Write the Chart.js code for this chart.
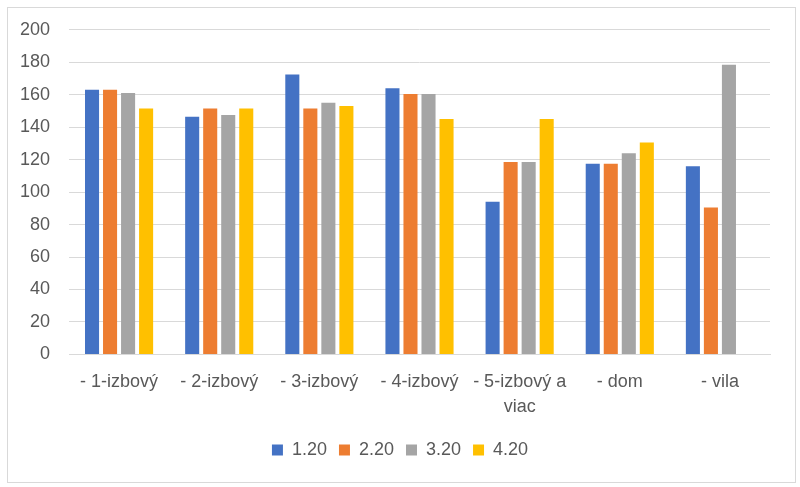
<!DOCTYPE html>
<html>
<head>
<meta charset="utf-8">
<script src="https://cdn.jsdelivr.net/npm/chart.js@4"></script>
<style>
  html, body { margin: 0; padding: 0; background: #ffffff; }
  #wrap { position: relative; width: 800px; height: 487px; }
  #frame { position: absolute; left: 7px; top: 7px; width: 787px; height: 474px; border: 1px solid #d9d9d9; pointer-events: none; }
  canvas { position: absolute; left: 0; top: 0; }
</style>
</head>
<body>
<div id="wrap">
  <canvas id="chart" width="800" height="487"></canvas>
  <div id="frame"></div>
</div>
<script>
// kategórie bytov
const categories = [
  '- 1-izbový', '- 2-izbový', '- 3-izbový', '- 4-izbový',
  ['- 5-izbový a', 'viac'], '- dom', '- vila'
];

// hodnoty podľa obdobia
const series120 = [163, 146.5, 172.5, 164, 94, 117.5, 116];
const series220 = [163, 151.5, 151.5, 160.5, 118.5, 117.5, 90.5];
const series320 = [161, 147.5, 155, 160.5, 118.5, 124, 178.5];
const series420 = [151.5, 151.5, 153, 145, 145, 130.5, null];

const seriesNames = ['1.20', '2.20', '3.20', '4.20'];
const seriesColors = ['#4472C4', '#ED7D31', '#A5A5A5', '#FFC000'];

const yTicks = [0, 20, 40, 60, 80, 100, 120, 140, 160, 180, 200];

const textColor = '#595959';
const fontFamily = "'Liberation Sans', sans-serif";

const ctx = document.getElementById('chart').getContext('2d');

new Chart(ctx, {
  type: 'bar',
  data: {
    labels: categories,
    datasets: [series120, series220, series320, series420].map((values, i) => ({
      label: seriesNames[i],
      data: values,
      backgroundColor: seriesColors[i],
      borderColor: seriesColors[i],
      borderWidth: 0,
      categoryPercentage: 0.72,
      barPercentage: 0.78,
    }))
  },
  options: {
    responsive: false,
    animation: false,
    layout: {
      padding: { left: 0, right: 0, top: 27, bottom: 18 }
    },
    plugins: {
      legend: {
        position: 'bottom',
        labels: {
          color: textColor,
          boxWidth: 11,
          boxHeight: 11,
          padding: 12,
          font: { family: fontFamily, size: 18 },
        },
      },
      tooltip: { enabled: false },
    },
    scales: {
      x: {
        afterFit: (scale) => { scale.height -= 6.5; },
        grid: { display: false, drawTicks: false },
        border: { color: '#d9d9d9', width: 1 },
        ticks: {
          color: textColor,
          font: { family: fontFamily, size: 18, lineHeight: 1.39 },
          padding: 15.5,
          maxRotation: 0,
          minRotation: 0,
          autoSkip: false,
        },
      },
      y: {
        min: 0,
        max: 200,
        afterFit: (scale) => { scale.width = 69; },
        afterBuildTicks: (scale) => { scale.ticks = yTicks.map(v => ({ value: v })); },
        grid: { color: '#d9d9d9', drawTicks: false },
        border: { display: false },
        ticks: {
          color: textColor,
          font: { family: fontFamily, size: 18 },
          padding: 19,
        },
      },
      // prázdna pravá os len kvôli okraju grafu
      yRight: {
        position: 'right',
        min: 0,
        max: 200,
        afterFit: (scale) => { scale.width = 30; },
        grid: { display: false, drawTicks: false },
        border: { display: false },
        ticks: { display: false },
      },
    },
  },
});
</script>
</body>
</html>
